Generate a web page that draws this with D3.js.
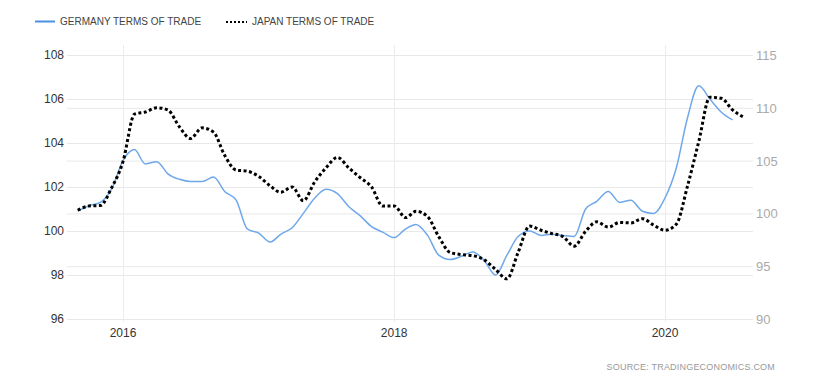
<!DOCTYPE html>
<html>
<head>
<meta charset="utf-8">
<script src="https://cdnjs.cloudflare.com/ajax/libs/d3/7.8.5/d3.min.js"></script>
<style>
  body { margin: 0; background: #fff; }
  svg { display: block; font-family: "Liberation Sans", Arial, sans-serif; }
</style>
</head>
<body>
<div id="chart"></div>
<script>
// monthly observations, Sep 2015 .. Aug 2020
var startMonth = new Date(2015, 8, 1);
var germany = [100.9, 101.15, 101.3, 101.9, 103.2, 103.7, 103.05, 103.15, 102.6, 102.35, 102.25, 102.25,
  102.45, 101.8, 101.4, 100.1, 99.9, 99.5, 99.85, 100.15, 100.8, 101.5, 101.9, 101.7,
  101.1, 100.7, 100.2, 99.95, 99.7, 100.1, 100.3, 99.8, 98.9, 98.7, 98.85, 99.05,
  98.65, 98.0, 98.9, 99.75, 100.0, 99.8, 99.85, 99.8, 99.75, 101.0, 101.35, 101.8,
  101.3, 101.4, 100.9, 100.8, 101.5, 102.9, 105.1, 106.6, 106.0, 105.4, 105.05];
var japan = [100.3, 100.7, 100.75, 102.4, 104.9, 109.4, 109.6, 110.0, 109.8, 108.2, 107.1, 108.1,
  107.7, 105.5, 104.1, 104.0, 103.5, 102.6, 102.0, 102.5, 101.2, 103.0, 104.3, 105.3,
  104.3, 103.4, 102.5, 100.7, 100.7, 99.6, 100.2, 99.7, 97.8, 96.3, 96.1, 96.0,
  95.6, 94.7, 93.8, 96.3, 98.8, 98.4, 98.1, 97.8, 96.9, 98.3, 99.2, 98.7,
  99.15, 99.1, 99.5, 98.9, 98.4, 99.0, 102.5, 106.8, 111.0, 110.9, 109.8, 109.1];
var leftTicks = [96, 98, 100, 102, 104, 106, 108];
var rightTicks = [90, 95, 100, 105, 110, 115];
var yearTicks = [2016, 2018, 2020];

var width = 822, height = 382;
var margin = {top: 55, right: 69, bottom: 62, left: 67};

var svg = d3.select("#chart")
  .append("svg")
    .attr("width", width)
    .attr("height", height);

function monthDate(i) {
  return d3.timeMonth.offset(startMonth, i);
}

var x = d3.scaleTime()
  .domain([new Date(2016, 0, 1), new Date(2020, 0, 1)])
  .range([123, 665]);

var yLeft = d3.scaleLinear()
  .domain([96, 108])
  .range([height - margin.bottom - 1, margin.top]);

var yRight = d3.scaleLinear()
  .domain([90, 115])
  .range([height - margin.bottom - 1, margin.top]);

var gx0 = margin.left, gx1 = width - margin.right;

// horizontal grid for both axes
svg.append("g").selectAll("line")
  .data(leftTicks)
  .enter().append("line")
    .attr("x1", gx0).attr("x2", gx1)
    .attr("y1", function(d) { return yLeft(d) + 0.5; })
    .attr("y2", function(d) { return yLeft(d) + 0.5; })
    .style("stroke", "#e8e8e8");

svg.append("g").selectAll("line")
  .data(rightTicks)
  .enter().append("line")
    .attr("x1", gx0).attr("x2", gx1)
    .attr("y1", function(d) { return yRight(d) + 0.5; })
    .attr("y2", function(d) { return yRight(d) + 0.5; })
    .style("stroke", "#e8e8e8");

// vertical year lines
svg.append("g").selectAll("line")
  .data(yearTicks)
  .enter().append("line")
    .attr("x1", function(d) { return Math.round(x(new Date(d, 0, 1))) + 0.5; })
    .attr("x2", function(d) { return Math.round(x(new Date(d, 0, 1))) + 0.5; })
    .attr("y1", 45).attr("y2", height - margin.bottom + 2)
    .style("stroke", "#ececec");

// axis labels
svg.append("g").selectAll("text")
  .data(leftTicks)
  .enter().append("text")
    .attr("x", 64)
    .attr("y", function(d) { return yLeft(d) + 4; })
    .attr("text-anchor", "end")
    .style("font-size", "12px")
    .style("fill", "#333")
    .text(function(d) { return d; });

svg.append("g").selectAll("text")
  .data(rightTicks)
  .enter().append("text")
    .attr("x", 756)
    .attr("y", function(d) { return yRight(d) + 5; })
    .style("font-size", "13px")
    .style("fill", "#aaa")
    .text(function(d) { return d; });

svg.append("g").selectAll("text")
  .data(yearTicks)
  .enter().append("text")
    .attr("x", function(d) { return x(new Date(d, 0, 1)); })
    .attr("y", 337)
    .attr("text-anchor", "middle")
    .style("font-size", "12px")
    .style("fill", "#333")
    .text(function(d) { return d; });

// lines
var lineLeft = d3.line()
  .x(function(d, i) { return x(monthDate(i)); })
  .y(function(d) { return yLeft(d); })
  .curve(d3.curveMonotoneX);

var lineRight = d3.line()
  .x(function(d, i) { return x(monthDate(i)); })
  .y(function(d) { return yRight(d); })
  .curve(d3.curveMonotoneX);

svg.append("path")
  .datum(germany)
  .attr("d", lineLeft)
  .style("fill", "none")
  .style("stroke", "#6fa8ea")
  .style("stroke-width", 1.5);

svg.append("path")
  .datum(japan)
  .attr("d", lineRight)
  .style("fill", "none")
  .style("stroke", "#000")
  .style("stroke-width", 3)
  .style("stroke-dasharray", "3,2.5");

// legend
var legend = svg.append("g");
legend.append("line")
  .attr("x1", 35).attr("x2", 55).attr("y1", 21.5).attr("y2", 21.5)
  .style("stroke", "#4a90e2").style("stroke-width", 2);
legend.append("text")
  .attr("x", 60).attr("y", 25)
  .style("font-size", "10px").style("fill", "#444")
  .text("GERMANY TERMS OF TRADE");
legend.append("line")
  .attr("x1", 226).attr("x2", 247).attr("y1", 22).attr("y2", 22)
  .style("stroke", "#000").style("stroke-width", 2)
  .style("stroke-dasharray", "2,2");
legend.append("text")
  .attr("x", 252).attr("y", 25)
  .style("font-size", "10px").style("fill", "#444")
  .text("JAPAN TERMS OF TRADE");

// source
svg.append("text")
  .attr("x", 775).attr("y", 370)
  .attr("text-anchor", "end")
  .style("font-size", "9px")
  .style("fill", "#999")
  .style("letter-spacing", "0.2px")
  .text("SOURCE:  TRADINGECONOMICS.COM");
</script>
</body>
</html>
